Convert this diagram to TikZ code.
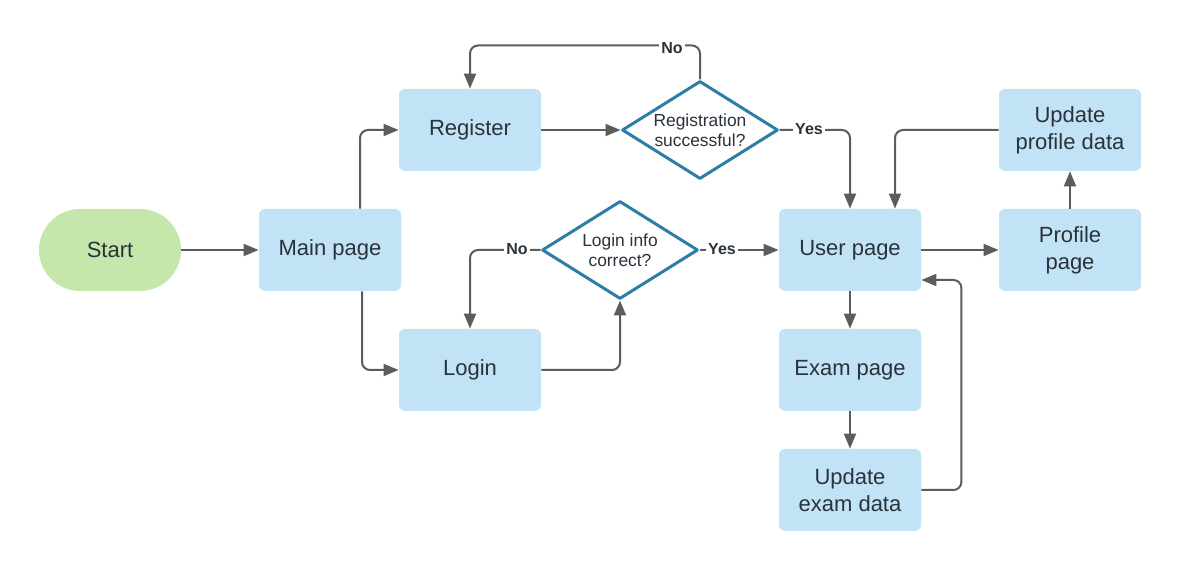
\documentclass[tikz,border=0pt]{standalone}
\usepackage{fontspec}
\setmainfont{Liberation Sans}
\usetikzlibrary{arrows.meta,shapes.geometric}
\definecolor{boxfill}{HTML}{C2E3F6}
\definecolor{startfill}{HTML}{C6E7AB}
\definecolor{dstroke}{HTML}{2E7DA8}
\definecolor{txt}{HTML}{2A323B}
\definecolor{conncol}{HTML}{5C5C5C}
\tikzset{
  box/.style={draw=none,fill=boxfill,rounded corners=3pt,minimum width=71pt,minimum height=41pt,
    align=center,text=txt,font=\fontsize{11}{13.5}\selectfont,inner sep=2pt},
  startbox/.style={draw=none,fill=startfill,rounded corners=20.5pt,minimum width=71pt,minimum height=41pt,
    text=txt,font=\fontsize{11}{13.5}\selectfont},
  decision/.style={diamond,draw=dstroke,line width=1.5pt,fill=white,aspect=1.6,minimum width=78pt,minimum height=49pt,
    inner sep=0pt,align=center,text=txt,font=\fontsize{8.7}{10}\selectfont,line join=round},
  conn/.style={draw=conncol,line width=1pt,rounded corners=4pt,-{Triangle[length=7.5pt,width=6pt]}},
  lbl/.style={fill=white,inner sep=1pt,text=txt,font=\bfseries\fontsize{8}{9}\selectfont}
}
\begin{document}
\begin{tikzpicture}[x=0.5pt,y=-0.5pt]
\useasboundingbox (0,0) rectangle (1180,571);
\node[startbox] (start) at (110,250) {Start};
\node[box] (main) at (330,250) {Main page};
\node[box] (reg) at (470,130) {Register};
\node[box] (login) at (470,370) {Login};
\node[decision] (regd) at (700,130) {Registration\\successful?};
\node[decision] (logd) at (620,250) {Login info\\correct?};
\node[box] (user) at (850,250) {User page};
\node[box] (prof) at (1070,250) {Profile\\page};
\node[box] (updp) at (1070,130) {Update\\profile data};
\node[box] (exam) at (850,370) {Exam page};
\node[box] (updx) at (850,490) {Update\\exam data};

\draw[conn] (start) -- (main);
\draw[conn] ([xshift=15pt]main.north) |- (reg.west);
\draw[conn] ([xshift=16pt]main.south) |- (login.west);
\draw[conn] (reg) -- (regd);
\draw[conn] (regd.north) -- ++(0,-34) -| (reg.north);
\draw[conn] (regd.east) -| (user.north);
\draw[conn] (login.east) -| (logd.south);
\draw[conn] (logd.west) -| (login.north);
\draw[conn] (logd.east) -- (user.west);
\draw[conn] (user) -- (prof);
\draw[conn] (prof) -- (updp);
\draw[conn] (updp.west) -| ([xshift=22.5pt]user.north);
\draw[conn] (user) -- (exam);
\draw[conn] (exam) -- (updx);
\draw[conn] (updx.east) -- ++(40,0) |- ([yshift=-15pt]user.east);

\node[lbl] (no1) at (672,48) {No};
\node[lbl] (yes1) at (809,129) {Yes};
\node[lbl] (no2) at (517,249) {No};
\node[lbl] (yes2) at (722,249) {Yes};
\end{tikzpicture}
\end{document}
